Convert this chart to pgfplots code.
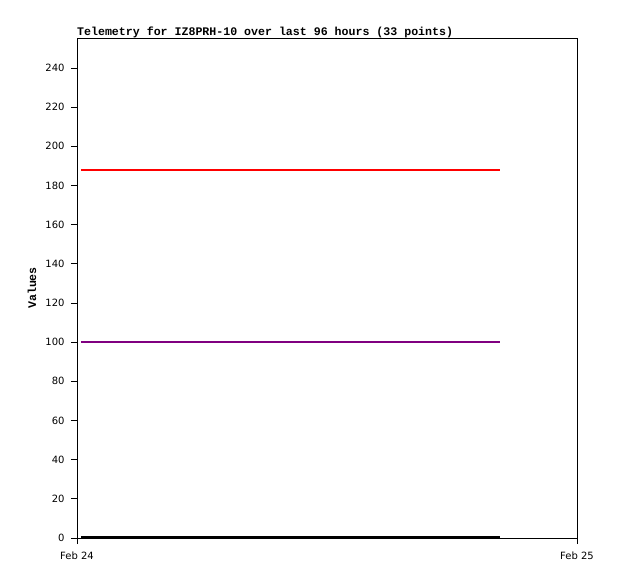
\documentclass[border=0pt]{standalone}
\usepackage{fontspec}
\setmainfont{DejaVu Sans}
\newfontfamily\monofont{Liberation Mono}
\usepackage{pgfplots}
\pgfplotsset{compat=1.18}
\definecolor{tmred}{HTML}{FF0000}
\definecolor{tmpurple}{HTML}{800080}
\begin{document}
\begin{tikzpicture}
\path[use as bounding box] (0,0) rectangle (618bp,579bp);
\begin{axis}[
    at={(77bp,41bp)}, anchor=south west,
    width=500bp, height=500bp, scale only axis,
    xmin=0, xmax=24,
    ymin=0, ymax=255.3,
    xtick={0,24}, xticklabels={Feb 24,Feb 25},
    ytick={0,20,...,240},
    tick align=outside, major tick length=6bp,
    xtick pos=bottom, ytick pos=left,
    tick style={black, line width=0.8bp},
    axis line style={line width=0.8bp},
    /pgf/number format/assume math mode=true,
    ticklabel style={font=\fontsize{10bp}{12bp}\selectfont},
    xticklabel style={yshift=-4bp},
    yticklabel style={xshift=-3bp},
    title={Telemetry for IZ8PRH-10 over last 96 hours (33 points)},
    title style={at={(0,1)}, anchor=base west, yshift=-3bp, inner sep=0pt,
        font=\monofont\bfseries\fontsize{11.6bp}{13bp}\selectfont},
    ylabel={Values},
    every axis y label/.style={at={(axis description cs:0,0.5)}, xshift=-45bp,
        rotate=90, anchor=center,
        font=\monofont\bfseries\fontsize{11.6bp}{13bp}\selectfont},
    clip=false,
]
\addplot[tmred, line width=1.6bp] coordinates {(0.19,188) (20.3,188)};
\addplot[tmpurple, line width=1.6bp] coordinates {(0.19,100.2) (20.3,100.2)};
\addplot[black, line width=1.6bp] coordinates {(0.19,0.4) (20.3,0.4)};
\end{axis}
\end{tikzpicture}
\end{document}
